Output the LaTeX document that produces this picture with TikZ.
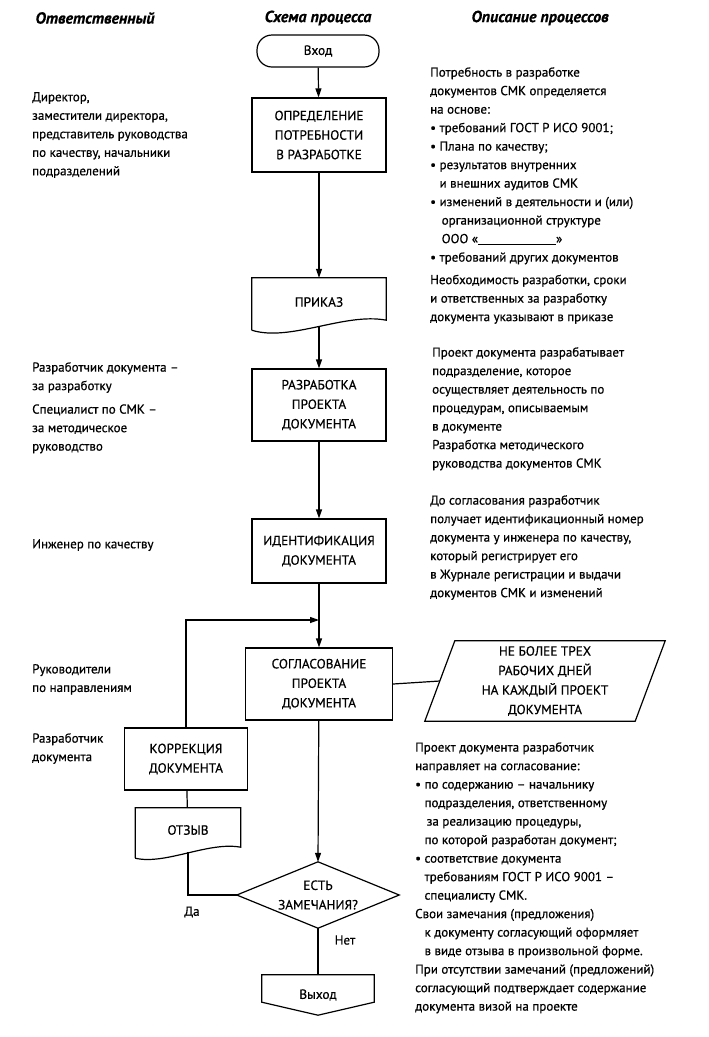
\documentclass[tikz,border=0pt]{standalone}
\usepackage{fontspec}
\setmainfont{PT Sans}[FakeBold=0.6]
\usetikzlibrary{arrows.meta,calc}
\newcommand\myfs{\fontsize{13}{18.5}\selectfont}
\newcommand\boxfs{\fontsize{13.3}{19.5}\selectfont}
\begin{document}
\begin{tikzpicture}[x=1pt,y=-1pt,
  ln/.style={line width=1.2pt},
  arr/.style={line width=1.2pt,-{Triangle[length=9pt,width=6pt]}},
  box/.style={draw,line width=1.2pt,minimum width=134pt,align=center,font=\boxfs,inner sep=2pt},
  shp/.style={align=center,font=\boxfs,inner sep=0pt},
  hdr/.style={font=\bfseries\itshape\fontsize{16}{18}\selectfont,inner sep=0pt},
  txt/.style={anchor=north west,align=left,inner sep=0pt,font=\myfs},
  lbl/.style={font=\myfs,inner sep=0pt}]
\useasboundingbox (0,0) rectangle (709,1037);
\fill[white] (0,0) rectangle (709,1037);

% headers
\node[hdr] (h1) at (95,18) {Ответственный};
\node[hdr] (h2) at (318,18) {Схема процесса};
\node[hdr] (h3) at (540,18) {Описание процессов};

% flow nodes
\node[box,rounded corners=15pt,minimum width=122pt,minimum height=32pt] (vhod) at (318,51) {Вход};
\node[box,minimum height=74pt] (b1) at (319,135) {ОПРЕДЕЛЕНИЕ\\ПОТРЕБНОСТИ\\В РАЗРАБОТКЕ};
\node[shp,minimum width=134pt,minimum height=48pt] (prikaz) at (319,302) {ПРИКАЗ};
\draw[ln] ($(prikaz.south west)+(0,4)$) -- (prikaz.north west) -- (prikaz.north east) -- ($(prikaz.south east)+(0,-6)$)
  .. controls ($(prikaz.south east)+(-41,-14)$) and ($(prikaz.south west)+(38,16)$) .. ($(prikaz.south west)+(0,4)$);
\node[box,minimum height=72pt] (b2) at (319,405) {РАЗРАБОТКА\\ПРОЕКТА\\ДОКУМЕНТА};
\node[box,minimum height=64pt] (b3) at (319,551) {ИДЕНТИФИКАЦИЯ\\ДОКУМЕНТА};
\coordinate (merge) at (319,620);
\node[box,minimum width=147pt,minimum height=72pt] (b4) at (319,684) {СОГЛАСОВАНИЕ\\ПРОЕКТА\\ДОКУМЕНТА};
\node[shp,minimum width=240pt,minimum height=80pt] (par) at (545,681) {НЕ БОЛЕЕ ТРЕХ\\РАБОЧИХ ДНЕЙ\\НА КАЖДЫЙ ПРОЕКТ\\ДОКУМЕНТА};
\draw[ln] (par.south west) -- ($(par.north west)+(30,0)$) -- (par.north east) -- ($(par.south east)+(-30,0)$) -- cycle;
\node[box,minimum width=123pt,minimum height=62pt] (korr) at (186,759) {КОРРЕКЦИЯ\\ДОКУМЕНТА};
\node[shp,minimum width=105pt,minimum height=44pt] (otz) at (188,830) {ОТЗЫВ};
\draw[ln] ($(otz.south west)+(0,6)$) -- (otz.north west) -- (otz.north east) -- ($(otz.south east)+(0,-5)$)
  .. controls ($(otz.south east)+(-32,-11)$) and ($(otz.south west)+(30,13)$) .. ($(otz.south west)+(0,6)$);
\node[shp,minimum width=162pt,minimum height=66pt] (dia) at (318,895) {ЕСТЬ\\ЗАМЕЧАНИЯ?};
\draw[ln] (dia.west) -- (dia.north) -- (dia.east) -- (dia.south) -- cycle;
\node[shp,minimum width=112pt,minimum height=40pt] (vyh) at (318,995) {Выход};
\draw[ln] (vyh.north west) -- (vyh.north east) -- ($(vyh.south east)+(0,-13)$) -- (vyh.south) -- ($(vyh.south west)+(0,-13)$) -- cycle;

% connectors
\draw[arr] (vhod) -- (b1);
\draw[arr] (b1) -- (prikaz);
\draw[arr] (prikaz) -- (b2);
\draw[arr] (b2) -- (b3);
\draw[arr] (b3) -- (b4);
\draw[arr] (korr.north) |- (merge);
\draw[ln] (b4.east) -- ($(par.west)+(15,0)$);
\draw[ln] (korr) -- (otz);
\draw[ln] (otz.south) |- (dia.west);
\draw[arr] (b4) -- (dia.north);
\draw[ln] (dia.south) -- (vyh.north);
\node[lbl] (da) at (192,912) {Да};
\node[lbl] (net) at (345,940) {Нет};

% left column
\node[txt] (r1) at (32,92) {Директор,\\заместители директора,\\представитель руководства\\по качеству, начальники\\подразделений};
\node[txt] (r2) at (32,362) {Разработчик документа –\\за разработку\\[5pt]Специалист по СМК –\\за методическое\\руководство};
\node[txt] (r3) at (32,539) {Инженер по качеству};
\node[txt] (r4) at (32,664) {Руководители\\по направлениям};
\node[txt] (r5) at (32,733) {Разработчик\\документа};

% right column
\node[txt] (d1) at (430,67) {Потребность в разработке\\документов СМК определяется\\на основе:\\• требований ГОСТ Р ИСО 9001;\\• Плана по качеству;\\• результатов внутренних\\\phantom{• }и внешних аудитов СМК\\• изменений в деятельности и (или)\\\phantom{• }\,организационной структуре\\\phantom{• }\,ООО «\rule[-1.5pt]{78pt}{0.6pt}»\\• требований других документов\\[4pt]Необходимость разработки, сроки\\и ответственных за разработку\\документа указывают в приказе};
\node[txt] (d2) at (432,347) {Проект документа разрабатывает\\подразделение, которое\\осуществляет деятельность по\\процедурам, описываемым\\в документе\\Разработка методического\\руководства документов СМК};
\node[txt] (d3) at (430,495) {До согласования разработчик\\получает идентификационный номер\\документа у инженера по качеству,\\который регистрирует его\\в Журнале регистрации и выдачи\\документов СМК и изменений};
\node[txt] (d4) at (415,742) {Проект документа разработчик\\направляет на согласование:\\• по содержанию – начальнику\\\phantom{• }подразделения, ответственному\\\phantom{• }\,за реализацию процедуры,\\\phantom{• }по которой разработан документ;\\• соответствие документа\\\phantom{• }требованиям ГОСТ Р ИСО 9001 –\\\phantom{• }специалисту СМК.\\Свои замечания (предложения)\\\phantom{• }к документу согласующий оформляет\\\phantom{• }в виде отзыва в произвольной форме.\\При отсутствии замечаний (предложений)\\согласующий подтверждает содержание\\документа визой на проекте};
\end{tikzpicture}
\end{document}
